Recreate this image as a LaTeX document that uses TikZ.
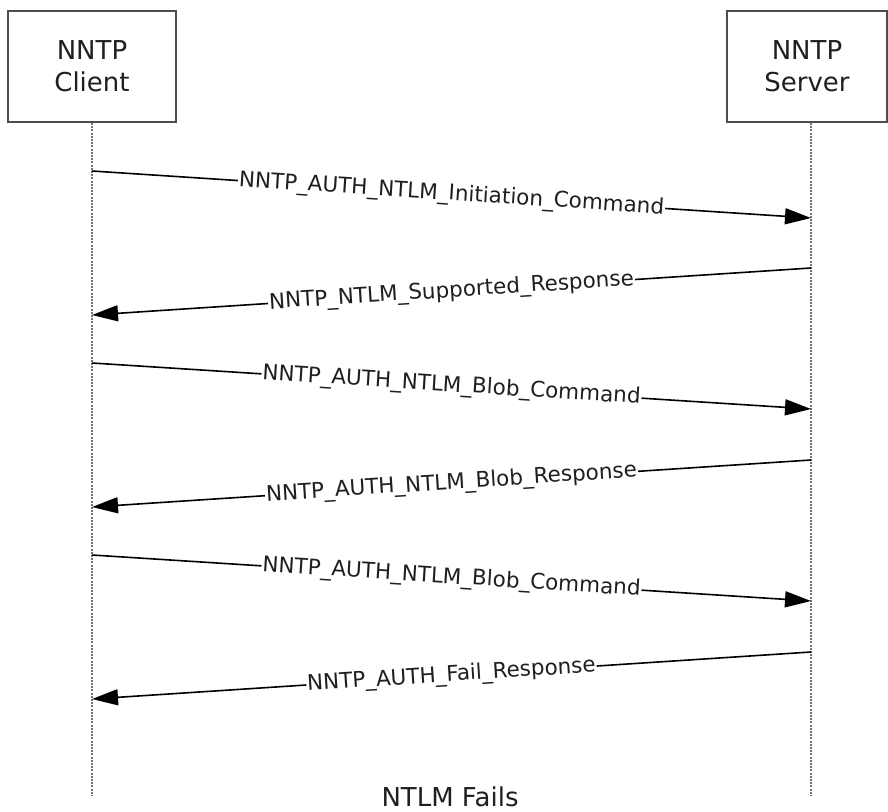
\documentclass[tikz,border=0pt]{standalone}
\usepackage{fontspec}
\setmainfont{DejaVu Sans}
\usepackage{xcolor}
\usetikzlibrary{arrows.meta,positioning}

\definecolor{boxgray}{HTML}{4D4D4D}
\definecolor{textgray}{HTML}{1F1F1F}

\tikzset{
    actor/.style={draw=boxgray, line width=1.8pt, minimum width=168pt, minimum height=111pt,
        align=center, text=textgray, font=\fontsize{26}{32}\selectfont},
    life/.style={draw=black!55, line width=2.2pt, dash pattern=on 2pt off 1.2pt},
    msg/.style={-{Triangle[length=26pt,width=16pt]}, line width=1.6pt},
    msglabel/.style={fill=white, sloped, inner sep=1pt, text=textgray, font=\fontsize{21.5}{26}\selectfont}
}

\begin{document}
\begin{tikzpicture}[x=1pt,y=-1pt]
    \useasboundingbox (0,0) rectangle (888,811);
    \node[actor] (client) at (92,66.5) {NNTP\\Client};
    \node[actor, minimum width=160pt] (server) at (807,66.5) {NNTP\\Server};

    % lifelines
    \coordinate (clientend) at (92,795);
    \coordinate (serverend) at (811,795);
    \draw[life] (client.south) -- (clientend);
    \draw[life] (server.south -| serverend) -- (serverend);

    % message ends on the lifelines
    \coordinate (c1) at (92,171);  \coordinate (s1) at (811,218);
    \coordinate (s2) at (811,268); \coordinate (c2) at (92,315);
    \coordinate (c3) at (92,363);  \coordinate (s3) at (811,409);
    \coordinate (s4) at (811,460); \coordinate (c4) at (92,507);
    \coordinate (c5) at (92,555);  \coordinate (s5) at (811,601);
    \coordinate (s6) at (811,652); \coordinate (c6) at (92,699);

    \draw[msg] (c1) -- node[msglabel] {NNTP\_AUTH\_NTLM\_Initiation\_Command} (s1);
    \draw[msg] (s2) -- node[msglabel] {NNTP\_NTLM\_Supported\_Response} (c2);
    \draw[msg] (c3) -- node[msglabel] {NNTP\_AUTH\_NTLM\_Blob\_Command} (s3);
    \draw[msg] (s4) -- node[msglabel] {NNTP\_AUTH\_NTLM\_Blob\_Response} (c4);
    \draw[msg] (c5) -- node[msglabel] {NNTP\_AUTH\_NTLM\_Blob\_Command} (s5);
    \draw[msg] (s6) -- node[msglabel] {NNTP\_AUTH\_Fail\_Response} (c6);

    \node[anchor=base, inner sep=0pt, text=textgray, font=\fontsize{26}{32}\selectfont] (title) at (450,806) {NTLM Fails};
\end{tikzpicture}
\end{document}
